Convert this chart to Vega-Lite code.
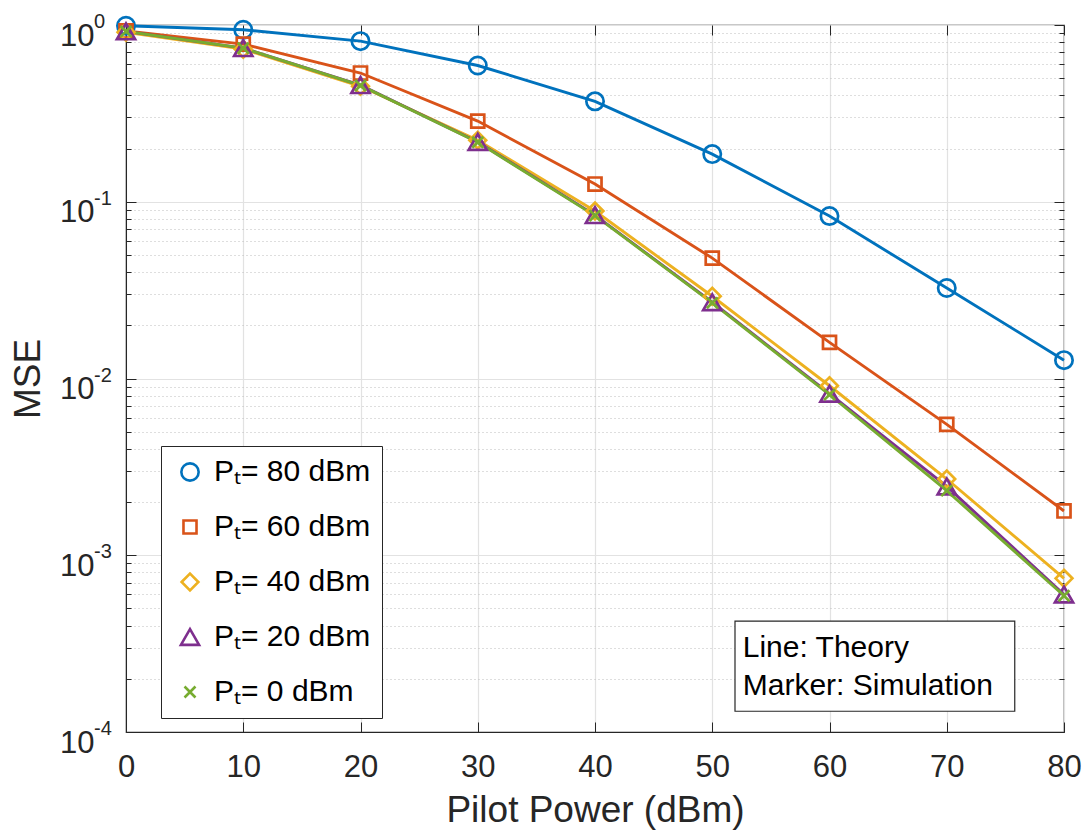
{
  "$schema": "https://vega.github.io/schema/vega-lite/v6.json",
  "width": 938,
  "height": 707,
  "autosize": "none",
  "padding": {"left": 126, "top": 25, "right": 23, "bottom": 104},
  "background": "white",
  "config": {
    "font": "Liberation Sans",
    "view": {"stroke": "#262626", "strokeWidth": 1.2},
    "axis": {
      "domainColor": "#262626",
      "tickColor": "#262626",
      "labelColor": "#262626",
      "titleColor": "#262626",
      "labelFont": "Liberation Sans",
      "titleFont": "Liberation Sans",
      "labelFontSize": 31,
      "titleFontSize": 37,
      "titleFontWeight": "normal",
      "gridColor": "#e2e2e2",
      "gridWidth": 1.2
    },
    "legend": {
      "orient": "none",
      "legendX": 35,
      "legendY": 421,
      "direction": "vertical",
      "strokeColor": "#262626",
      "fillColor": "white",
      "padding": 11,
      "labelFontSize": 30,
      "labelColor": "black",
      "labelFont": "Liberation Sans",
      "labelOffset": 9,
      "symbolOffset": 3,
      "rowPadding": 25,
      "symbolStrokeWidth": 2.6,
      "symbolFillColor": "transparent"
    }
  },
  "data": {
    "values": [
      {"x": 0, "mse": 0.99, "series": "80"},
      {"x": 10, "mse": 0.94, "series": "80"},
      {"x": 20, "mse": 0.81, "series": "80"},
      {"x": 30, "mse": 0.59, "series": "80"},
      {"x": 40, "mse": 0.37, "series": "80"},
      {"x": 50, "mse": 0.186, "series": "80"},
      {"x": 60, "mse": 0.083, "series": "80"},
      {"x": 70, "mse": 0.0325, "series": "80"},
      {"x": 80, "mse": 0.0127, "series": "80"},
      {"x": 0, "mse": 0.925, "series": "60"},
      {"x": 10, "mse": 0.78, "series": "60"},
      {"x": 20, "mse": 0.535, "series": "60"},
      {"x": 30, "mse": 0.286, "series": "60"},
      {"x": 40, "mse": 0.126, "series": "60"},
      {"x": 50, "mse": 0.048, "series": "60"},
      {"x": 60, "mse": 0.016, "series": "60"},
      {"x": 70, "mse": 0.0055, "series": "60"},
      {"x": 80, "mse": 0.00178, "series": "60"},
      {"x": 0, "mse": 0.91, "series": "40"},
      {"x": 10, "mse": 0.73, "series": "40"},
      {"x": 20, "mse": 0.45, "series": "40"},
      {"x": 30, "mse": 0.223, "series": "40"},
      {"x": 40, "mse": 0.0886, "series": "40"},
      {"x": 50, "mse": 0.0292, "series": "40"},
      {"x": 60, "mse": 0.0091, "series": "40"},
      {"x": 70, "mse": 0.0027, "series": "40"},
      {"x": 80, "mse": 0.00074, "series": "40"},
      {"x": 0, "mse": 0.92, "series": "20"},
      {"x": 10, "mse": 0.74, "series": "20"},
      {"x": 20, "mse": 0.457, "series": "20"},
      {"x": 30, "mse": 0.218, "series": "20"},
      {"x": 40, "mse": 0.084, "series": "20"},
      {"x": 50, "mse": 0.027, "series": "20"},
      {"x": 60, "mse": 0.0082, "series": "20"},
      {"x": 70, "mse": 0.00245, "series": "20"},
      {"x": 80, "mse": 0.0006, "series": "20"},
      {"x": 0, "mse": 0.92, "series": "0"},
      {"x": 10, "mse": 0.74, "series": "0"},
      {"x": 20, "mse": 0.455, "series": "0"},
      {"x": 30, "mse": 0.217, "series": "0"},
      {"x": 40, "mse": 0.0835, "series": "0"},
      {"x": 50, "mse": 0.0268, "series": "0"},
      {"x": 60, "mse": 0.0081, "series": "0"},
      {"x": 70, "mse": 0.00232, "series": "0"},
      {"x": 80, "mse": 0.00059, "series": "0"}
    ]
  },
  "resolve": {"axis": {"x": "independent", "y": "independent"}},
  "layer": [
    {
      "mark": {"type": "line", "strokeWidth": 2.9, "clip": false},
      "encoding": {
        "x": {
          "field": "x",
          "type": "quantitative",
          "scale": {"domain": [0, 80], "nice": false, "zero": false},
          "axis": {
            "values": [0, 10, 20, 30, 40, 50, 60, 70, 80],
            "title": "Pilot Power (dBm)",
            "tickSize": -10,
            "labelPadding": 30,
            "titlePadding": 10,
            "grid": true,
            "labelFlush": false
          }
        },
        "y": {
          "field": "mse",
          "type": "quantitative",
          "scale": {"type": "log", "domain": [0.0001, 1], "nice": false},
          "axis": {
            "values": [0.0001, 0.0002, 0.0003, 0.0004, 0.0005, 0.0006, 0.0007, 0.0008, 0.0009,
                       0.001, 0.002, 0.003, 0.004, 0.005, 0.006, 0.007, 0.008, 0.009,
                       0.01, 0.02, 0.03, 0.04, 0.05, 0.06, 0.07, 0.08, 0.09,
                       0.1, 0.2, 0.3, 0.4, 0.5, 0.6, 0.7, 0.8, 0.9, 1],
            "title": "MSE",
            "titlePadding": 12,
            "labelPadding": 42,
            "labelFlush": false,
            "labelOverlap": false,
            "labelBaseline": "alphabetic",
            "labelOffset": 20,
            "labelExpr": "(datum.value === 1 || datum.value === 0.1 || datum.value === 0.01 || datum.value === 0.001 || datum.value === 0.0001) ? '10' : ''",
            "tickSize": {"condition": {"test": "datum.value === 1 || datum.value === 0.1 || datum.value === 0.01 || datum.value === 0.001 || datum.value === 0.0001", "value": -10}, "value": -5},
            "gridDash": {"condition": {"test": "datum.value === 1 || datum.value === 0.1 || datum.value === 0.01 || datum.value === 0.001 || datum.value === 0.0001", "value": []}, "value": [1, 3]},
            "gridColor": {"condition": {"test": "datum.value === 1 || datum.value === 0.1 || datum.value === 0.01 || datum.value === 0.001 || datum.value === 0.0001", "value": "#e2e2e2"}, "value": "#bdbdbd"},
            "grid": true
          }
        },
        "stroke": {
          "field": "series",
          "type": "nominal",
          "scale": {"domain": ["0", "20", "40", "60", "80"], "range": ["#77AC30", "#7E2F8E", "#EDB120", "#D95319", "#0072BD"]},
          "legend": null
        }
      }
    },
    {
      "mark": {"type": "point", "filled": false, "strokeWidth": 2.7, "clip": false, "opacity": 1},
      "encoding": {
        "x": {"field": "x", "type": "quantitative", "axis": null},
        "y": {"field": "mse", "type": "quantitative", "axis": null},
        "color": {
          "field": "series",
          "type": "nominal",
          "scale": {"domain": ["80", "60", "40", "20", "0"], "range": ["#0072BD", "#D95319", "#EDB120", "#7E2F8E", "#77AC30"]},
          "legend": {"title": null, "labelExpr": "'Pₜ= ' + datum.label + ' dBm'"}
        },
        "shape": {
          "field": "series",
          "type": "nominal",
          "scale": {"domain": ["80", "60", "40", "20", "0"], "range": ["circle", "square", "diamond", "triangle-up", "M-1,-1L1,1M-1,1L1,-1"]},
          "legend": {"title": null, "labelExpr": "'Pₜ= ' + datum.label + ' dBm'"}
        },
        "size": {
          "field": "series",
          "type": "nominal",
          "scale": {"type": "ordinal", "domain": ["80", "60", "40", "20", "0"], "range": [300, 170, 280, 330, 120]},
          "legend": {"title": null, "labelExpr": "'Pₜ= ' + datum.label + ' dBm'"}
        }
      }
    },
    {
      "data": {"values": [{}]},
      "mark": {"type": "rect", "fill": "white", "stroke": "#262626", "strokeWidth": 1.2},
      "encoding": {
        "x": {"datum": 51.94, "type": "quantitative", "axis": {"orient": "top", "values": [0, 10, 20, 30, 40, 50, 60, 70, 80], "labels": false, "domain": false, "grid": false, "title": null, "tickSize": -10}},
        "x2": {"datum": 75.8},
        "y": {"datum": 0.000424, "type": "quantitative", "axis": {
            "orient": "right",
            "values": [0.0001, 0.0002, 0.0003, 0.0004, 0.0005, 0.0006, 0.0007, 0.0008, 0.0009,
                       0.001, 0.002, 0.003, 0.004, 0.005, 0.006, 0.007, 0.008, 0.009,
                       0.01, 0.02, 0.03, 0.04, 0.05, 0.06, 0.07, 0.08, 0.09,
                       0.1, 0.2, 0.3, 0.4, 0.5, 0.6, 0.7, 0.8, 0.9, 1],
            "labels": false, "domain": false, "grid": false, "title": null,
            "tickSize": {"condition": {"test": "datum.value === 1 || datum.value === 0.1 || datum.value === 0.01 || datum.value === 0.001 || datum.value === 0.0001", "value": -10}, "value": -5}
          }},
        "y2": {"datum": 0.000131}
      }
    },
    {
      "data": {"values": [{}]},
      "mark": {"type": "text", "text": ["Line: Theory", "Marker: Simulation"], "align": "left", "baseline": "middle", "fontSize": 30, "lineHeight": 38, "color": "black", "font": "Liberation Sans"},
      "encoding": {
        "x": {"datum": 52.6, "type": "quantitative", "axis": null},
        "y": {"datum": 0.000298, "type": "quantitative", "axis": null}
      }
    },
    {
      "data": {
        "values": [
          {"v": 1, "e": "0"},
          {"v": 0.1, "e": "-1"},
          {"v": 0.01, "e": "-2"},
          {"v": 0.001, "e": "-3"},
          {"v": 0.0001, "e": "-4"}
        ]
      },
      "mark": {"type": "text", "align": "left", "baseline": "alphabetic", "fontSize": 20, "dx": -32, "dy": 3, "color": "#262626", "font": "Liberation Sans", "clip": false},
      "encoding": {
        "x": {"datum": 0, "type": "quantitative", "axis": null},
        "y": {"field": "v", "type": "quantitative", "axis": null},
        "text": {"field": "e", "type": "nominal"}
      }
    }
  ]
}
